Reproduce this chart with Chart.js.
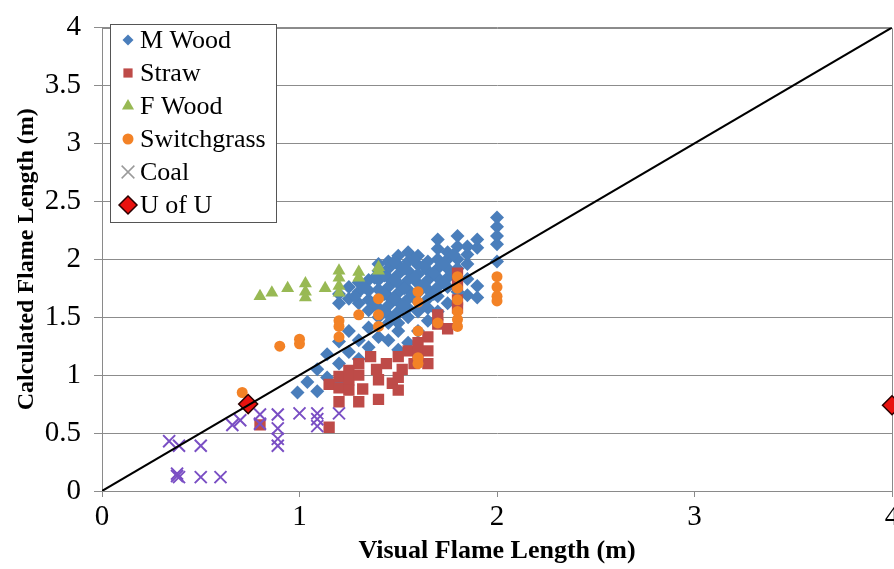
<!DOCTYPE html>
<html>
<head>
<meta charset="utf-8">
<title>Calculated vs visual flame length</title>
<script src="https://cdn.jsdelivr.net/npm/chart.js@4.4.1/dist/chart.umd.min.js"></script>
<style>
  html, body { margin: 0; padding: 0; background: #fff; overflow: hidden; }
  #wrap { position: relative; width: 910px; height: 569px; }
</style>
</head>
<body>
<div id="wrap"><canvas id="flameChart" width="910" height="569"></canvas></div>
<script>
// measured points: [visual length, calculated length] in metres
const mWood = [
  [0.99,0.85],[1.04,0.94],[1.09,1.05],[1.09,0.86],[1.14,1.18],[1.14,0.98],[1.2,1.29],[1.2,1.1],[1.2,0.93],
  [1.25,1.38],[1.25,1.2],[1.3,1.3],[1.3,1.14],[1.35,1.41],[1.35,1.24],[1.4,1.33],[1.45,1.3],[1.45,1.45],
  [1.5,1.38],[1.5,1.22],[1.55,1.28],[1.6,1.2],[1.6,1.38],[1.65,1.47],[1.7,1.55],[1.75,1.62],[1.8,1.72],
  [1.85,1.69],[1.9,1.67],[1.9,1.77],[1.85,1.83],
  [1.2,1.62],[1.2,1.7],[1.25,1.66],[1.25,1.76],[1.3,1.62],[1.3,1.72],[1.3,1.8],
  [1.35,1.56],[1.35,1.65],[1.35,1.73],[1.35,1.82],
  [1.4,1.5],[1.4,1.58],[1.4,1.66],[1.4,1.74],[1.4,1.82],[1.4,1.9],[1.4,1.96],
  [1.45,1.52],[1.45,1.6],[1.45,1.68],[1.45,1.76],[1.45,1.84],[1.45,1.92],[1.45,1.98],
  [1.5,1.45],[1.5,1.55],[1.5,1.63],[1.5,1.71],[1.5,1.79],[1.5,1.87],[1.5,1.95],[1.5,2.03],
  [1.55,1.5],[1.55,1.58],[1.55,1.66],[1.55,1.74],[1.55,1.82],[1.55,1.9],[1.55,1.98],[1.55,2.06],
  [1.6,1.55],[1.6,1.63],[1.6,1.71],[1.6,1.79],[1.6,1.87],[1.6,1.95],[1.6,2.03],
  [1.65,1.58],[1.65,1.66],[1.65,1.74],[1.65,1.82],[1.65,1.9],[1.65,1.98],
  [1.7,1.68],[1.7,1.76],[1.7,1.84],[1.7,1.92],[1.7,2.0],[1.7,2.09],[1.7,2.17],
  [1.75,1.76],[1.75,1.84],[1.75,1.92],[1.75,2.0],[1.75,2.06],
  [1.8,1.84],[1.8,1.92],[1.8,2.0],[1.8,2.11],[1.8,2.2],
  [1.85,1.96],[1.85,2.04],[1.85,2.11],[1.9,2.1],[1.9,2.17],
  [2.0,1.98],[2.0,2.13],[2.0,2.2],[2.0,2.28],[2.0,2.36],
  [1.43,1.55],[1.43,1.7],[1.43,1.86],[1.48,1.5],[1.48,1.66],[1.48,1.82],[1.48,1.98],
  [1.53,1.6],[1.53,1.75],[1.53,1.92],[1.58,1.68],[1.58,1.84],[1.58,2.0],
  [1.63,1.6],[1.63,1.78],[1.63,1.94],[1.68,1.7],[1.68,1.88],[1.73,1.8],[1.73,1.96],
  [1.78,1.88],[1.78,2.04],[1.28,1.68],[1.33,1.76],[1.38,1.62],[1.38,1.84]
];
const straw = [
  [0.8,0.57],[1.15,0.55],[1.15,0.92],[1.2,0.99],[1.2,0.89],[1.2,0.77],[1.25,1.04],[1.25,0.96],[1.25,0.87],
  [1.3,1.1],[1.3,1.0],[1.3,0.77],[1.32,0.88],[1.36,1.16],[1.39,1.05],[1.4,0.96],[1.4,0.79],[1.44,1.1],
  [1.47,0.93],[1.5,1.16],[1.52,1.05],[1.5,0.98],[1.5,0.87],[1.55,1.21],[1.58,1.1],[1.6,1.19],[1.6,1.28],
  [1.65,1.33],[1.65,1.21],[1.65,1.1],[1.7,1.52],[1.7,1.44],[1.75,1.4],[1.8,1.88],[1.8,1.78],[1.8,1.65],[1.8,1.58]
];
const fWood = [
  [0.8,1.68],[0.86,1.71],[0.94,1.75],[1.03,1.79],[1.03,1.72],[1.03,1.67],[1.13,1.75],
  [1.2,1.9],[1.2,1.84],[1.2,1.77],[1.2,1.71],[1.3,1.89],[1.3,1.84],[1.4,1.93],[1.4,1.9]
];
const switchgrass = [
  [0.71,0.85],[0.9,1.25],[1.0,1.31],[1.0,1.27],[1.2,1.47],[1.2,1.42],[1.2,1.33],[1.3,1.52],
  [1.4,1.66],[1.4,1.52],[1.4,1.42],[1.6,1.72],[1.6,1.63],[1.6,1.38],[1.6,1.1],[1.6,1.15],[1.7,1.45],
  [1.8,1.85],[1.8,1.75],[1.8,1.65],[1.8,1.55],[1.8,1.48],[1.8,1.42],
  [2.0,1.85],[2.0,1.76],[2.0,1.68],[2.0,1.64]
];
const coal = [
  [0.34,0.43],[0.39,0.39],[0.5,0.39],[0.38,0.15],[0.39,0.12],[0.38,0.13],[0.5,0.12],[0.6,0.12],
  [0.66,0.57],[0.7,0.61],[0.8,0.66],[0.8,0.58],[0.89,0.66],[0.89,0.54],[0.89,0.45],[0.89,0.39],
  [1.0,0.67],[1.09,0.67],[1.09,0.62],[1.09,0.56],[1.2,0.67]
];
const uOfU = [[0.74,0.75],[4.0,0.74]];
const parityLine = [[0,0],[4,4]];

const seriesNames = ['M Wood', 'Straw', 'F Wood', 'Switchgrass', 'Coal', 'U of U'];
const yTicks = [0, 0.5, 1, 1.5, 2, 2.5, 3, 3.5, 4];
const xTicks = [0, 1, 2, 3, 4];

const toXY = arr => arr.map(p => ({ x: p[0], y: p[1] }));

// legend markers (drawn by hand inside the plot)
const legendMarks = [
  { style: 'rectRot', r: 5.5, fill: '#4A7EBB', stroke: '#4A7EBB', lw: 0 },
  { style: 'rect', r: 6.5, fill: '#BE4B48', stroke: '#BE4B48', lw: 0 },
  { style: 'triangle', r: 7, fill: '#98B954', stroke: '#98B954', lw: 0 },
  { style: 'circle', r: 5.5, fill: '#F38226', stroke: '#F38226', lw: 0 },
  { style: 'crossRot', r: 9, fill: '#9a9a9a', stroke: '#9a9a9a', lw: 1.5 },
  { style: 'rectRot', r: 9, fill: '#E8120F', stroke: '#2a0000', lw: 1.5 }
];

const frameAndLegend = {
  id: 'frameAndLegend',
  beforeDatasetsDraw(chart) {
    const { ctx, chartArea: a } = chart;
    ctx.save();
    ctx.strokeStyle = '#8a8a8a';
    ctx.lineWidth = 1;
    ctx.beginPath();
    ctx.moveTo(a.left, Math.round(a.top) + 0.5);
    ctx.lineTo(Math.round(a.right) + 0.5, Math.round(a.top) + 0.5);
    ctx.lineTo(Math.round(a.right) + 0.5, a.bottom);
    ctx.stroke();
    ctx.restore();
  },
  afterDraw(chart) {
    const ctx = chart.ctx;
    ctx.save();
    ctx.fillStyle = '#fff';
    ctx.fillRect(110.5, 24.5, 166, 198);
    ctx.strokeStyle = '#555';
    ctx.lineWidth = 1;
    ctx.strokeRect(110.5, 24.5, 166, 198);
    ctx.font = '26px "Liberation Serif", "Times New Roman", serif';
    ctx.textBaseline = 'middle';
    seriesNames.forEach((name, i) => {
      const y = 40 + i * 33;
      const m = legendMarks[i];
      ctx.fillStyle = m.fill;
      ctx.strokeStyle = m.stroke;
      ctx.lineWidth = m.lw;
      Chart.helpers.drawPoint(ctx, { pointStyle: m.style, radius: m.r, rotation: 0, borderWidth: m.lw }, 128, y);
      ctx.fillStyle = '#000';
      ctx.fillText(name, 140, y + 1);
    });
    ctx.restore();
  }
};

const serif = '"Liberation Serif", "Times New Roman", serif';

new Chart(document.getElementById('flameChart'), {
  type: 'scatter',
  data: {
    datasets: [
      { type: 'line', label: 'y = x', data: toXY(parityLine), showLine: true,
        borderColor: '#000', borderWidth: 2, pointRadius: 0, order: 0 },
      { label: seriesNames[5], data: toXY(uOfU), pointStyle: 'rectRot', pointRadius: 9.5,
        backgroundColor: '#E8120F', borderColor: '#2a0000', borderWidth: 1.5, clip: false, order: 1 },
      { label: seriesNames[4], data: toXY(coal), pointStyle: 'crossRot', pointRadius: 8.5,
        borderColor: '#7A4FC4', backgroundColor: '#7A4FC4', borderWidth: 2, order: 2 },
      { label: seriesNames[3], data: toXY(switchgrass), pointStyle: 'circle', pointRadius: 5.5,
        backgroundColor: '#F38226', borderColor: '#F38226', borderWidth: 0, order: 3 },
      { label: seriesNames[2], data: toXY(fWood), pointStyle: 'triangle', pointRadius: 7.5,
        backgroundColor: '#98B954', borderColor: '#98B954', borderWidth: 0, order: 4 },
      { label: seriesNames[1], data: toXY(straw), pointStyle: 'rect', pointRadius: 8,
        backgroundColor: '#BE4B48', borderColor: '#BE4B48', borderWidth: 0, order: 5 },
      { label: seriesNames[0], data: toXY(mWood), pointStyle: 'rectRot', pointRadius: 7,
        backgroundColor: '#4A7EBB', borderColor: '#4A7EBB', borderWidth: 0, order: 6 }
    ]
  },
  options: {
    responsive: false,
    animation: false,
    layout: { padding: { left: 0, top: 16, right: 18, bottom: 0 } },
    plugins: {
      legend: { display: false },
      tooltip: { enabled: false }
    },
    scales: {
      x: {
        type: 'linear', min: 0, max: 4,
        afterBuildTicks: axis => { axis.ticks = xTicks.map(v => ({ value: v })); },
        afterFit: axis => { axis.height = 78; },
        grid: { drawOnChartArea: false, drawTicks: true, tickLength: 6, color: '#8a8a8a' },
        border: { color: '#8a8a8a', width: 1 },
        ticks: { color: '#000', padding: 6, font: { family: serif, size: 29, lineHeight: 1 },
          callback: v => String(v) },
        title: { display: true, text: 'Visual Flame Length (m)', color: '#000',
          font: { family: serif, size: 26, weight: 'bold', lineHeight: 1.2 }, padding: { top: 0, bottom: 2 } }
      },
      y: {
        type: 'linear', min: 0, max: 4,
        afterBuildTicks: axis => { axis.ticks = yTicks.map(v => ({ value: v })); },
        afterFit: axis => { axis.width = 102; },
        grid: { color: '#8c8c8c', lineWidth: 1, tickLength: 8 },
        border: { color: '#8a8a8a', width: 1 },
        ticks: { color: '#000', padding: 13, font: { family: serif, size: 29, lineHeight: 1 },
          callback: v => String(v) },
        title: { display: true, text: 'Calculated Flame Length (m)', color: '#000',
          font: { family: serif, size: 24, weight: 'bold', lineHeight: 1.2 }, padding: { top: 12, bottom: 0 } }
      }
    }
  },
  plugins: [frameAndLegend]
});
</script>
</body>
</html>
